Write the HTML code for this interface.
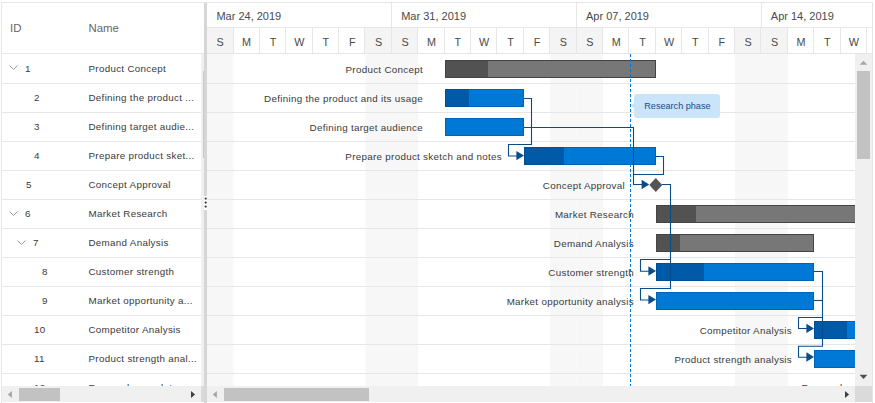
<!DOCTYPE html>
<html><head><meta charset="utf-8"><style>
html,body{margin:0;padding:0;background:#fff;}
body{width:875px;height:403px;overflow:hidden;position:relative;font-family:"Liberation Sans", sans-serif;}
</style></head><body>
<div style="position:absolute;left:1px;top:2px;width:872px;height:1px;background:#e6e6e6;"></div>
<div style="position:absolute;left:1px;top:2px;width:1px;height:401px;background:#e6e6e6;"></div>
<div style="position:absolute;left:872px;top:2px;width:1px;height:401px;background:#e6e6e6;"></div>
<div style="position:absolute;left:10px;top:18px;height:20px;line-height:20px;font-size:11.4px;color:#666666;white-space:nowrap;">ID</div>
<div style="position:absolute;left:88.5px;top:18px;height:20px;line-height:20px;font-size:11.4px;color:#666666;white-space:nowrap;">Name</div>
<div style="position:absolute;left:2px;top:53px;width:202px;height:1px;background:#e6e6e6;"></div>
<div style="position:absolute;left:201px;top:54px;width:3px;height:332px;background:#f0f0f0;"></div>
<div style="position:absolute;left:202.5px;top:71px;width:1.5px;height:87px;background:#c8c8c8;"></div>
<div style="position:absolute;left:2px;top:83px;width:199px;height:1px;background:#e6e6e6;"></div>
<div style="position:absolute;left:2px;top:112px;width:199px;height:1px;background:#e6e6e6;"></div>
<div style="position:absolute;left:2px;top:141px;width:199px;height:1px;background:#e6e6e6;"></div>
<div style="position:absolute;left:2px;top:170px;width:199px;height:1px;background:#e6e6e6;"></div>
<div style="position:absolute;left:2px;top:199px;width:199px;height:1px;background:#e6e6e6;"></div>
<div style="position:absolute;left:2px;top:228px;width:199px;height:1px;background:#e6e6e6;"></div>
<div style="position:absolute;left:2px;top:257px;width:199px;height:1px;background:#e6e6e6;"></div>
<div style="position:absolute;left:2px;top:286px;width:199px;height:1px;background:#e6e6e6;"></div>
<div style="position:absolute;left:2px;top:315px;width:199px;height:1px;background:#e6e6e6;"></div>
<div style="position:absolute;left:2px;top:344px;width:199px;height:1px;background:#e6e6e6;"></div>
<div style="position:absolute;left:2px;top:373px;width:199px;height:1px;background:#e6e6e6;"></div>
<svg style="position:absolute;left:9px;top:65.0px" width="9" height="6"><polyline points="0.5,0.5 4.5,4.5 8.5,0.5" fill="none" stroke="#9a9a9a" stroke-width="1"/></svg>
<div style="position:absolute;left:25px;top:58.5px;height:20px;line-height:20px;font-size:9.8px;color:#3a3a3a;white-space:nowrap;letter-spacing:0.3px">1</div>
<div style="position:absolute;left:88.5px;top:58.5px;height:20px;line-height:20px;font-size:9.8px;color:#3a3a3a;white-space:nowrap;letter-spacing:0.3px">Product Concept</div>
<div style="position:absolute;left:34px;top:88px;height:20px;line-height:20px;font-size:9.8px;color:#3a3a3a;white-space:nowrap;letter-spacing:0.3px">2</div>
<div style="position:absolute;left:88.5px;top:88px;height:20px;line-height:20px;font-size:9.8px;color:#3a3a3a;white-space:nowrap;letter-spacing:0.3px">Defining the product ...</div>
<div style="position:absolute;left:34px;top:117px;height:20px;line-height:20px;font-size:9.8px;color:#3a3a3a;white-space:nowrap;letter-spacing:0.3px">3</div>
<div style="position:absolute;left:88.5px;top:117px;height:20px;line-height:20px;font-size:9.8px;color:#3a3a3a;white-space:nowrap;letter-spacing:0.3px">Defining target audie...</div>
<div style="position:absolute;left:34px;top:146px;height:20px;line-height:20px;font-size:9.8px;color:#3a3a3a;white-space:nowrap;letter-spacing:0.3px">4</div>
<div style="position:absolute;left:88.5px;top:146px;height:20px;line-height:20px;font-size:9.8px;color:#3a3a3a;white-space:nowrap;letter-spacing:0.3px">Prepare product sket...</div>
<div style="position:absolute;left:26px;top:175px;height:20px;line-height:20px;font-size:9.8px;color:#3a3a3a;white-space:nowrap;letter-spacing:0.3px">5</div>
<div style="position:absolute;left:88.5px;top:175px;height:20px;line-height:20px;font-size:9.8px;color:#3a3a3a;white-space:nowrap;letter-spacing:0.3px">Concept Approval</div>
<svg style="position:absolute;left:9px;top:210.5px" width="9" height="6"><polyline points="0.5,0.5 4.5,4.5 8.5,0.5" fill="none" stroke="#9a9a9a" stroke-width="1"/></svg>
<div style="position:absolute;left:25px;top:204px;height:20px;line-height:20px;font-size:9.8px;color:#3a3a3a;white-space:nowrap;letter-spacing:0.3px">6</div>
<div style="position:absolute;left:88.5px;top:204px;height:20px;line-height:20px;font-size:9.8px;color:#3a3a3a;white-space:nowrap;letter-spacing:0.3px">Market Research</div>
<svg style="position:absolute;left:17px;top:239.5px" width="9" height="6"><polyline points="0.5,0.5 4.5,4.5 8.5,0.5" fill="none" stroke="#9a9a9a" stroke-width="1"/></svg>
<div style="position:absolute;left:33px;top:233px;height:20px;line-height:20px;font-size:9.8px;color:#3a3a3a;white-space:nowrap;letter-spacing:0.3px">7</div>
<div style="position:absolute;left:88.5px;top:233px;height:20px;line-height:20px;font-size:9.8px;color:#3a3a3a;white-space:nowrap;letter-spacing:0.3px">Demand Analysis</div>
<div style="position:absolute;left:42px;top:262px;height:20px;line-height:20px;font-size:9.8px;color:#3a3a3a;white-space:nowrap;letter-spacing:0.3px">8</div>
<div style="position:absolute;left:88.5px;top:262px;height:20px;line-height:20px;font-size:9.8px;color:#3a3a3a;white-space:nowrap;letter-spacing:0.3px">Customer strength</div>
<div style="position:absolute;left:42px;top:291px;height:20px;line-height:20px;font-size:9.8px;color:#3a3a3a;white-space:nowrap;letter-spacing:0.3px">9</div>
<div style="position:absolute;left:88.5px;top:291px;height:20px;line-height:20px;font-size:9.8px;color:#3a3a3a;white-space:nowrap;letter-spacing:0.3px">Market opportunity a...</div>
<div style="position:absolute;left:34px;top:320px;height:20px;line-height:20px;font-size:9.8px;color:#3a3a3a;white-space:nowrap;letter-spacing:0.3px">10</div>
<div style="position:absolute;left:88.5px;top:320px;height:20px;line-height:20px;font-size:9.8px;color:#3a3a3a;white-space:nowrap;letter-spacing:0.3px">Competitor Analysis</div>
<div style="position:absolute;left:34px;top:349px;height:20px;line-height:20px;font-size:9.8px;color:#3a3a3a;white-space:nowrap;letter-spacing:0.3px">11</div>
<div style="position:absolute;left:88.5px;top:349px;height:20px;line-height:20px;font-size:9.8px;color:#3a3a3a;white-space:nowrap;letter-spacing:0.3px">Product strength anal...</div>
<div style="position:absolute;left:34px;top:378px;height:20px;line-height:20px;font-size:9.8px;color:#3a3a3a;white-space:nowrap;letter-spacing:0.3px">12</div>
<div style="position:absolute;left:88.5px;top:378px;height:20px;line-height:20px;font-size:9.8px;color:#3a3a3a;white-space:nowrap;letter-spacing:0.3px">Research complete</div>
<div style="position:absolute;left:204px;top:3px;width:3px;height:400px;background:#d6d6d6;"></div>
<div style="position:absolute;left:204px;top:196px;width:3px;height:14px;background:#ffffff;"></div>
<svg style="position:absolute;left:204px;top:196px" width="4" height="14"><circle cx="1.7" cy="2.5999999999999943" r="1.15" fill="#3a3a3a"/><circle cx="1.7" cy="6.599999999999994" r="1.15" fill="#3a3a3a"/><circle cx="1.7" cy="10.599999999999994" r="1.15" fill="#3a3a3a"/></svg>
<div style="position:absolute;left:207px;top:27px;width:665px;height:1px;background:#e6e6e6;"></div>
<div style="position:absolute;left:207px;top:53px;width:665px;height:1px;background:#e6e6e6;"></div>
<div style="position:absolute;left:216.4px;top:6px;height:20px;line-height:20px;font-size:11px;color:#4a4a4a;white-space:nowrap;">Mar 24, 2019</div>
<div style="position:absolute;left:391px;top:3px;width:1px;height:25px;background:#e6e6e6;"></div>
<div style="position:absolute;left:401.19999999999993px;top:6px;height:20px;line-height:20px;font-size:11px;color:#4a4a4a;white-space:nowrap;">Mar 31, 2019</div>
<div style="position:absolute;left:576px;top:3px;width:1px;height:25px;background:#e6e6e6;"></div>
<div style="position:absolute;left:585.9999999999999px;top:6px;height:20px;line-height:20px;font-size:11px;color:#4a4a4a;white-space:nowrap;">Apr 07, 2019</div>
<div style="position:absolute;left:761px;top:3px;width:1px;height:25px;background:#e6e6e6;"></div>
<div style="position:absolute;left:770.8px;top:6px;height:20px;line-height:20px;font-size:11px;color:#4a4a4a;white-space:nowrap;">Apr 14, 2019</div>
<div style="position:absolute;left:207.0px;top:28px;width:26.4px;height:25px;background:#f4f4f4;"></div>
<div style="position:absolute;left:207.0px;top:31.8px;width:26.4px;height:20px;line-height:20px;font-size:10.8px;color:#4a4a4a;text-align:center">S</div>
<div style="position:absolute;left:233px;top:28px;width:1px;height:25px;background:#e6e6e6;"></div>
<div style="position:absolute;left:233.4px;top:31.8px;width:26.4px;height:20px;line-height:20px;font-size:10.8px;color:#4a4a4a;text-align:center">M</div>
<div style="position:absolute;left:259px;top:28px;width:1px;height:25px;background:#e6e6e6;"></div>
<div style="position:absolute;left:259.8px;top:31.8px;width:26.4px;height:20px;line-height:20px;font-size:10.8px;color:#4a4a4a;text-align:center">T</div>
<div style="position:absolute;left:285px;top:28px;width:1px;height:25px;background:#e6e6e6;"></div>
<div style="position:absolute;left:286.2px;top:31.8px;width:26.4px;height:20px;line-height:20px;font-size:10.8px;color:#4a4a4a;text-align:center">W</div>
<div style="position:absolute;left:312px;top:28px;width:1px;height:25px;background:#e6e6e6;"></div>
<div style="position:absolute;left:312.6px;top:31.8px;width:26.4px;height:20px;line-height:20px;font-size:10.8px;color:#4a4a4a;text-align:center">T</div>
<div style="position:absolute;left:338px;top:28px;width:1px;height:25px;background:#e6e6e6;"></div>
<div style="position:absolute;left:339.0px;top:31.8px;width:26.4px;height:20px;line-height:20px;font-size:10.8px;color:#4a4a4a;text-align:center">F</div>
<div style="position:absolute;left:365.4px;top:28px;width:26.4px;height:25px;background:#f4f4f4;"></div>
<div style="position:absolute;left:364px;top:28px;width:1px;height:25px;background:#e6e6e6;"></div>
<div style="position:absolute;left:365.4px;top:31.8px;width:26.4px;height:20px;line-height:20px;font-size:10.8px;color:#4a4a4a;text-align:center">S</div>
<div style="position:absolute;left:391.79999999999995px;top:28px;width:26.4px;height:25px;background:#f4f4f4;"></div>
<div style="position:absolute;left:391px;top:28px;width:1px;height:25px;background:#e6e6e6;"></div>
<div style="position:absolute;left:391.79999999999995px;top:31.8px;width:26.4px;height:20px;line-height:20px;font-size:10.8px;color:#4a4a4a;text-align:center">S</div>
<div style="position:absolute;left:417px;top:28px;width:1px;height:25px;background:#e6e6e6;"></div>
<div style="position:absolute;left:418.2px;top:31.8px;width:26.4px;height:20px;line-height:20px;font-size:10.8px;color:#4a4a4a;text-align:center">M</div>
<div style="position:absolute;left:444px;top:28px;width:1px;height:25px;background:#e6e6e6;"></div>
<div style="position:absolute;left:444.6px;top:31.8px;width:26.4px;height:20px;line-height:20px;font-size:10.8px;color:#4a4a4a;text-align:center">T</div>
<div style="position:absolute;left:470px;top:28px;width:1px;height:25px;background:#e6e6e6;"></div>
<div style="position:absolute;left:471.0px;top:31.8px;width:26.4px;height:20px;line-height:20px;font-size:10.8px;color:#4a4a4a;text-align:center">W</div>
<div style="position:absolute;left:496px;top:28px;width:1px;height:25px;background:#e6e6e6;"></div>
<div style="position:absolute;left:497.4px;top:31.8px;width:26.4px;height:20px;line-height:20px;font-size:10.8px;color:#4a4a4a;text-align:center">T</div>
<div style="position:absolute;left:523px;top:28px;width:1px;height:25px;background:#e6e6e6;"></div>
<div style="position:absolute;left:523.8px;top:31.8px;width:26.4px;height:20px;line-height:20px;font-size:10.8px;color:#4a4a4a;text-align:center">F</div>
<div style="position:absolute;left:550.2px;top:28px;width:26.4px;height:25px;background:#f4f4f4;"></div>
<div style="position:absolute;left:549px;top:28px;width:1px;height:25px;background:#e6e6e6;"></div>
<div style="position:absolute;left:550.2px;top:31.8px;width:26.4px;height:20px;line-height:20px;font-size:10.8px;color:#4a4a4a;text-align:center">S</div>
<div style="position:absolute;left:576.5999999999999px;top:28px;width:26.4px;height:25px;background:#f4f4f4;"></div>
<div style="position:absolute;left:576px;top:28px;width:1px;height:25px;background:#e6e6e6;"></div>
<div style="position:absolute;left:576.5999999999999px;top:31.8px;width:26.4px;height:20px;line-height:20px;font-size:10.8px;color:#4a4a4a;text-align:center">S</div>
<div style="position:absolute;left:602px;top:28px;width:1px;height:25px;background:#e6e6e6;"></div>
<div style="position:absolute;left:603.0px;top:31.8px;width:26.4px;height:20px;line-height:20px;font-size:10.8px;color:#4a4a4a;text-align:center">M</div>
<div style="position:absolute;left:628px;top:28px;width:1px;height:25px;background:#e6e6e6;"></div>
<div style="position:absolute;left:629.4px;top:31.8px;width:26.4px;height:20px;line-height:20px;font-size:10.8px;color:#4a4a4a;text-align:center">T</div>
<div style="position:absolute;left:655px;top:28px;width:1px;height:25px;background:#e6e6e6;"></div>
<div style="position:absolute;left:655.8px;top:31.8px;width:26.4px;height:20px;line-height:20px;font-size:10.8px;color:#4a4a4a;text-align:center">W</div>
<div style="position:absolute;left:681px;top:28px;width:1px;height:25px;background:#e6e6e6;"></div>
<div style="position:absolute;left:682.2px;top:31.8px;width:26.4px;height:20px;line-height:20px;font-size:10.8px;color:#4a4a4a;text-align:center">T</div>
<div style="position:absolute;left:708px;top:28px;width:1px;height:25px;background:#e6e6e6;"></div>
<div style="position:absolute;left:708.5999999999999px;top:31.8px;width:26.4px;height:20px;line-height:20px;font-size:10.8px;color:#4a4a4a;text-align:center">F</div>
<div style="position:absolute;left:735.0px;top:28px;width:26.4px;height:25px;background:#f4f4f4;"></div>
<div style="position:absolute;left:734px;top:28px;width:1px;height:25px;background:#e6e6e6;"></div>
<div style="position:absolute;left:735.0px;top:31.8px;width:26.4px;height:20px;line-height:20px;font-size:10.8px;color:#4a4a4a;text-align:center">S</div>
<div style="position:absolute;left:761.4px;top:28px;width:26.4px;height:25px;background:#f4f4f4;"></div>
<div style="position:absolute;left:760px;top:28px;width:1px;height:25px;background:#e6e6e6;"></div>
<div style="position:absolute;left:761.4px;top:31.8px;width:26.4px;height:20px;line-height:20px;font-size:10.8px;color:#4a4a4a;text-align:center">S</div>
<div style="position:absolute;left:787px;top:28px;width:1px;height:25px;background:#e6e6e6;"></div>
<div style="position:absolute;left:787.8px;top:31.8px;width:26.4px;height:20px;line-height:20px;font-size:10.8px;color:#4a4a4a;text-align:center">M</div>
<div style="position:absolute;left:813px;top:28px;width:1px;height:25px;background:#e6e6e6;"></div>
<div style="position:absolute;left:814.1999999999999px;top:31.8px;width:26.4px;height:20px;line-height:20px;font-size:10.8px;color:#4a4a4a;text-align:center">T</div>
<div style="position:absolute;left:840px;top:28px;width:1px;height:25px;background:#e6e6e6;"></div>
<div style="position:absolute;left:840.5999999999999px;top:31.8px;width:26.4px;height:20px;line-height:20px;font-size:10.8px;color:#4a4a4a;text-align:center">W</div>
<div style="position:absolute;left:866px;top:28px;width:1px;height:25px;background:#e6e6e6;"></div>
<div style="position:absolute;left:867.0px;top:31.8px;width:26.4px;height:20px;line-height:20px;font-size:10.8px;color:#4a4a4a;text-align:center">T</div>
<div style="position:absolute;left:207px;top:54px;width:648px;height:332px;overflow:hidden">
<svg style="position:absolute;left:0;top:0" width="648" height="332"><rect x="0.00" y="0" width="26.4" height="332" fill="#f7f7f7"/><rect x="158.40" y="0" width="26.4" height="332" fill="#f7f7f7"/><rect x="184.80" y="0" width="26.4" height="332" fill="#f7f7f7"/><rect x="343.20" y="0" width="26.4" height="332" fill="#f7f7f7"/><rect x="369.60" y="0" width="26.4" height="332" fill="#f7f7f7"/><rect x="528.00" y="0" width="26.4" height="332" fill="#f7f7f7"/><rect x="554.40" y="0" width="26.4" height="332" fill="#f7f7f7"/></svg>
<div style="position:absolute;left:0px;top:29px;width:648px;height:1px;background:#e6e6e6;"></div>
<div style="position:absolute;left:0px;top:58px;width:648px;height:1px;background:#e6e6e6;"></div>
<div style="position:absolute;left:0px;top:87px;width:648px;height:1px;background:#e6e6e6;"></div>
<div style="position:absolute;left:0px;top:116px;width:648px;height:1px;background:#e6e6e6;"></div>
<div style="position:absolute;left:0px;top:145px;width:648px;height:1px;background:#e6e6e6;"></div>
<div style="position:absolute;left:0px;top:174px;width:648px;height:1px;background:#e6e6e6;"></div>
<div style="position:absolute;left:0px;top:203px;width:648px;height:1px;background:#e6e6e6;"></div>
<div style="position:absolute;left:0px;top:232px;width:648px;height:1px;background:#e6e6e6;"></div>
<div style="position:absolute;left:0px;top:261px;width:648px;height:1px;background:#e6e6e6;"></div>
<div style="position:absolute;left:0px;top:290px;width:648px;height:1px;background:#e6e6e6;"></div>
<div style="position:absolute;left:0px;top:319px;width:648px;height:1px;background:#e6e6e6;"></div>
<div style="position:absolute;right:432px;top:5.5px;height:20px;line-height:20px;font-size:9.8px;color:#3a3a3a;white-space:nowrap;letter-spacing:0.3px">Product Concept</div>
<div style="position:absolute;right:432px;top:35px;height:20px;line-height:20px;font-size:9.8px;color:#3a3a3a;white-space:nowrap;letter-spacing:0.3px">Defining the product and its usage</div>
<div style="position:absolute;right:432px;top:64px;height:20px;line-height:20px;font-size:9.8px;color:#3a3a3a;white-space:nowrap;letter-spacing:0.3px">Defining target audience</div>
<div style="position:absolute;right:353px;top:93px;height:20px;line-height:20px;font-size:9.8px;color:#3a3a3a;white-space:nowrap;letter-spacing:0.3px">Prepare product sketch and notes</div>
<div style="position:absolute;right:230px;top:122px;height:20px;line-height:20px;font-size:9.8px;color:#3a3a3a;white-space:nowrap;letter-spacing:0.3px">Concept Approval</div>
<div style="position:absolute;right:221px;top:151px;height:20px;line-height:20px;font-size:9.8px;color:#3a3a3a;white-space:nowrap;letter-spacing:0.3px">Market Research</div>
<div style="position:absolute;right:221px;top:180px;height:20px;line-height:20px;font-size:9.8px;color:#3a3a3a;white-space:nowrap;letter-spacing:0.3px">Demand Analysis</div>
<div style="position:absolute;right:221px;top:209px;height:20px;line-height:20px;font-size:9.8px;color:#3a3a3a;white-space:nowrap;letter-spacing:0.3px">Customer strength</div>
<div style="position:absolute;right:221px;top:238px;height:20px;line-height:20px;font-size:9.8px;color:#3a3a3a;white-space:nowrap;letter-spacing:0.3px">Market opportunity analysis</div>
<div style="position:absolute;right:63px;top:267px;height:20px;line-height:20px;font-size:9.8px;color:#3a3a3a;white-space:nowrap;letter-spacing:0.3px">Competitor Analysis</div>
<div style="position:absolute;right:63px;top:296px;height:20px;line-height:20px;font-size:9.8px;color:#3a3a3a;white-space:nowrap;letter-spacing:0.3px">Product strength analysis</div>
<div style="position:absolute;right:-36px;top:324.3px;height:20px;line-height:20px;font-size:9.8px;color:#3a3a3a;white-space:nowrap;letter-spacing:0.3px">Research complete</div>
<div style="position:absolute;left:238px;top:6px;width:210.79999999999995px;height:17.6px;background:#777777;box-sizing:border-box;border:1px solid #444444"></div>
<div style="position:absolute;left:238px;top:6px;width:43px;height:17.6px;background:#525252;box-sizing:border-box;border:1px solid #444444;border-right:none"></div>
<div style="position:absolute;left:238px;top:35px;width:79px;height:17.6px;background:#0078d6;box-sizing:border-box;border:1px solid #0063b5"></div>
<div style="position:absolute;left:238px;top:35px;width:23.600000000000023px;height:17.6px;background:#005aa8;box-sizing:border-box;border:1px solid #004f94;border-right:none"></div>
<div style="position:absolute;left:238px;top:64px;width:79px;height:17.6px;background:#0078d6;box-sizing:border-box;border:1px solid #0063b5"></div>
<div style="position:absolute;left:317px;top:93px;width:131.79999999999995px;height:17.6px;background:#0078d6;box-sizing:border-box;border:1px solid #0063b5"></div>
<div style="position:absolute;left:317px;top:93px;width:40px;height:17.6px;background:#005aa8;box-sizing:border-box;border:1px solid #004f94;border-right:none"></div>
<div style="position:absolute;left:449px;top:151px;width:244px;height:17.6px;background:#777777;box-sizing:border-box;border:1px solid #444444"></div>
<div style="position:absolute;left:449px;top:151px;width:40px;height:17.6px;background:#525252;box-sizing:border-box;border:1px solid #444444;border-right:none"></div>
<div style="position:absolute;left:449px;top:180px;width:158px;height:17.6px;background:#777777;box-sizing:border-box;border:1px solid #444444"></div>
<div style="position:absolute;left:449px;top:180px;width:24px;height:17.6px;background:#525252;box-sizing:border-box;border:1px solid #444444;border-right:none"></div>
<div style="position:absolute;left:449px;top:209px;width:158px;height:17.6px;background:#0078d6;box-sizing:border-box;border:1px solid #0063b5"></div>
<div style="position:absolute;left:449px;top:209px;width:48px;height:17.6px;background:#005aa8;box-sizing:border-box;border:1px solid #004f94;border-right:none"></div>
<div style="position:absolute;left:449px;top:238px;width:158px;height:17.6px;background:#0078d6;box-sizing:border-box;border:1px solid #0063b5"></div>
<div style="position:absolute;left:607px;top:267px;width:86px;height:17.6px;background:#0078d6;box-sizing:border-box;border:1px solid #0063b5"></div>
<div style="position:absolute;left:607px;top:267px;width:33px;height:17.6px;background:#005aa8;box-sizing:border-box;border:1px solid #004f94;border-right:none"></div>
<div style="position:absolute;left:607px;top:296px;width:86px;height:17.6px;background:#0078d6;box-sizing:border-box;border:1px solid #0063b5"></div>
<svg style="position:absolute;left:0;top:0" width="648" height="332"><polyline points="316.5,44.5 324.5,44.5 324.5,90.5 301.5,90.5 301.5,102 311,102" fill="none" stroke="#0a4c89" stroke-width="1.1"/><polygon points="317,101.6 309.4,96.9 309.4,106.29999999999998" fill="#0a4c89"/><polyline points="316.5,73.5 426.5,73.5 426.5,130.5 436,130.5" fill="none" stroke="#0a4c89" stroke-width="1.1"/><polygon points="442.20000000000005,130.5 434.6,125.80000000000001 434.6,135.2" fill="#0a4c89"/><polyline points="448.5,102.5 456.5,102.5 456.5,120.5 426.5,120.5" fill="none" stroke="#0a4c89" stroke-width="1.1"/><polyline points="455,130.5 463.5,130.5 463.5,234.5 433.5,234.5 433.5,246 443,246" fill="none" stroke="#0a4c89" stroke-width="1.1"/><polygon points="449,245.60000000000002 441.4,240.90000000000003 441.4,250.3" fill="#0a4c89"/><polyline points="463.5,205.5 433.5,205.5 433.5,217.2 443,217.2" fill="none" stroke="#0a4c89" stroke-width="1.1"/><polygon points="449,217 441.4,212.3 441.4,221.7" fill="#0a4c89"/><polyline points="606.5,217.5 615.5,217.5 615.5,292.2 591.5,292.2 591.5,303.3 601,303.3" fill="none" stroke="#0a4c89" stroke-width="1.1"/><polygon points="607,303 599.4,298.3 599.4,307.7" fill="#0a4c89"/><polyline points="606.5,246.5 615.5,246.5" fill="none" stroke="#0a4c89" stroke-width="1.1"/><polyline points="615.5,263.5 591.5,263.5 591.5,274.5 601,274.5" fill="none" stroke="#0a4c89" stroke-width="1.1"/><polygon points="607,274.4 599.4,269.7 599.4,279.09999999999997" fill="#0a4c89"/><polygon points="448.79999999999995,124.1 455.29999999999995,131 448.79999999999995,137.9 442.29999999999995,131" fill="#555555"/></svg>
<div style="position:absolute;left:427px;top:40px;width:86px;height:24px;background:#cae4fa;border-radius:3px"></div>
<svg style="position:absolute;left:423.79999999999995px;top:47px" width="4" height="9"><polygon points="0,4.5 3.4,0.8 3.4,8.2" fill="#cae4fa"/></svg>
<div style="position:absolute;left:437.29999999999995px;top:41.5px;height:20px;line-height:20px;font-size:9.1px;color:#164c8c;white-space:nowrap">Research phase</div>
<div style="position:absolute;left:423px;top:0;width:1.2px;height:332px;background:repeating-linear-gradient(to bottom,#0078d6 0,#0078d6 3px,transparent 3px,transparent 5px)"></div>
</div>
<div style="position:absolute;left:855px;top:54px;width:17px;height:332px;background:#f0f0f0;"></div>
<svg style="position:absolute;left:859px;top:60px" width="9" height="6"><polygon points="0.6,4.8 4.5,0.8 8.4,4.8" fill="#a6a6a6"/></svg>
<div style="position:absolute;left:857px;top:71px;width:13px;height:88px;background:#c2c2c2;"></div>
<svg style="position:absolute;left:859px;top:374px" width="9" height="6"><polygon points="0.6,0.8 4.5,5 8.4,0.8" fill="#505050"/></svg>
<div style="position:absolute;left:2px;top:386px;width:199px;height:16px;background:#f0f0f0;"></div>
<svg style="position:absolute;left:7px;top:390px" width="6" height="9"><polygon points="0.8,4.5 4.9,1 4.9,8" fill="#a6a6a6"/></svg>
<div style="position:absolute;left:19px;top:388px;width:41px;height:13px;background:#c2c2c2;"></div>
<svg style="position:absolute;left:190px;top:390px" width="6" height="9"><polygon points="5.1,4.5 1,1 1,8" fill="#404040"/></svg>
<div style="position:absolute;left:201px;top:386px;width:3px;height:16px;background:#dadada;"></div>
<div style="position:absolute;left:207px;top:386px;width:648px;height:16px;background:#f0f0f0;"></div>
<svg style="position:absolute;left:212px;top:390px" width="6" height="9"><polygon points="0.8,4.5 4.9,1 4.9,8" fill="#a6a6a6"/></svg>
<div style="position:absolute;left:224px;top:388px;width:145px;height:13px;background:#c2c2c2;"></div>
<svg style="position:absolute;left:844px;top:390px" width="6" height="9"><polygon points="5.1,4.5 1,1 1,8" fill="#404040"/></svg>
<div style="position:absolute;left:855px;top:386px;width:17px;height:16px;background:#dadada;"></div>
</body></html>
